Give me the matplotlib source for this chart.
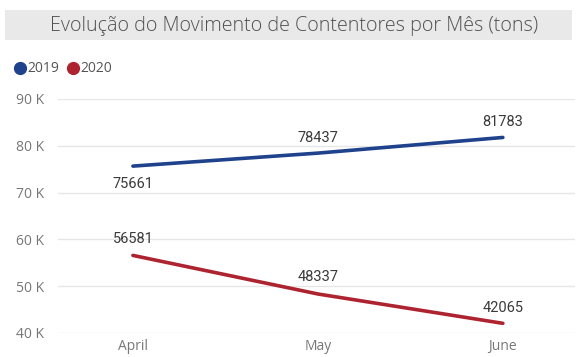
import matplotlib
matplotlib.use("Agg")
import matplotlib.pyplot as plt
from matplotlib.patches import Rectangle
from matplotlib.lines import Line2D

months = ["April", "May", "June"]
series_2019 = [75661, 78437, 81783]
series_2020 = [56581, 48337, 42065]
y_ticks = [40000, 50000, 60000, 70000, 80000, 90000]
y_tick_labels = ["40 K", "50 K", "60 K", "70 K", "80 K", "90 K"]
series_names = ["2019", "2020"]
title = "Evolução do Movimento de Contentores por Mês (tons)"

blue = "#1F428C"
red = "#AE2330"
W, H = 577, 357

fig = plt.figure(figsize=(W / 100, H / 100), dpi=100)

# title band
fig.patches.append(Rectangle((5 / W, 1 - 40 / H), 567 / W, 30 / H,
                             transform=fig.transFigure, facecolor="#E9E9E9",
                             edgecolor="none", zorder=0))
fig.text(294 / W, 1 - 26 / H, title, ha="center", va="center",
         fontsize=14.2, color="#505050", family="Open Sans", fontweight="light")

# legend
for i, (name, col) in enumerate(zip(series_names, [blue, red])):
    x0 = [20, 73][i]
    fig.add_artist(Line2D([x0 / W], [1 - 68 / H], marker="o", markersize=8.5,
                          color=col, transform=fig.transFigure, linestyle="none"))
    fig.text((x0 + 7) / W, 1 - 68 / H, name, ha="left", va="center",
             fontsize=10, color="#555555", family="Open Sans")

ax = fig.add_axes([58 / W, 24 / H, (575 - 58) / W, (333 - 99) / H])
x = range(len(months))
ax.plot(x, series_2019, color=blue, lw=2.6, solid_capstyle="round", clip_on=False, zorder=3)
ax.plot(x, series_2020, color=red, lw=2.6, solid_capstyle="round", clip_on=False, zorder=3)

ax.set_xlim(-0.405, 2.39)
ax.set_ylim(40000, 90000)
ax.set_yticks(y_ticks)
ax.set_yticklabels(y_tick_labels)
ax.set_xticks(list(x))
ax.set_xticklabels(months)
ax.grid(axis="y", color="#E6E6E6", lw=1)
ax.set_axisbelow(True)
for s in ax.spines.values():
    s.set_visible(False)
ax.tick_params(length=0, colors="#777777", labelsize=10, pad=10)
ax.tick_params(axis="x", pad=4)
for lab in ax.get_xticklabels() + ax.get_yticklabels():
    lab.set_family("Open Sans")

# data labels
offsets_2019 = [-13, 11, 11]
offsets_2020 = [12, 12, 11]
for xi, v, dy in zip(x, series_2019, offsets_2019):
    ax.annotate(str(v), (xi, v), xytext=(0, dy), textcoords="offset points",
                ha="center", va="center", fontsize=10.5, color="#3A3A3A",
                family="Roboto")
for xi, v, dy in zip(x, series_2020, offsets_2020):
    ax.annotate(str(v), (xi, v), xytext=(0, dy), textcoords="offset points",
                ha="center", va="center", fontsize=10.5, color="#3A3A3A",
                family="Roboto")

fig.savefig("out.png", dpi=100)
